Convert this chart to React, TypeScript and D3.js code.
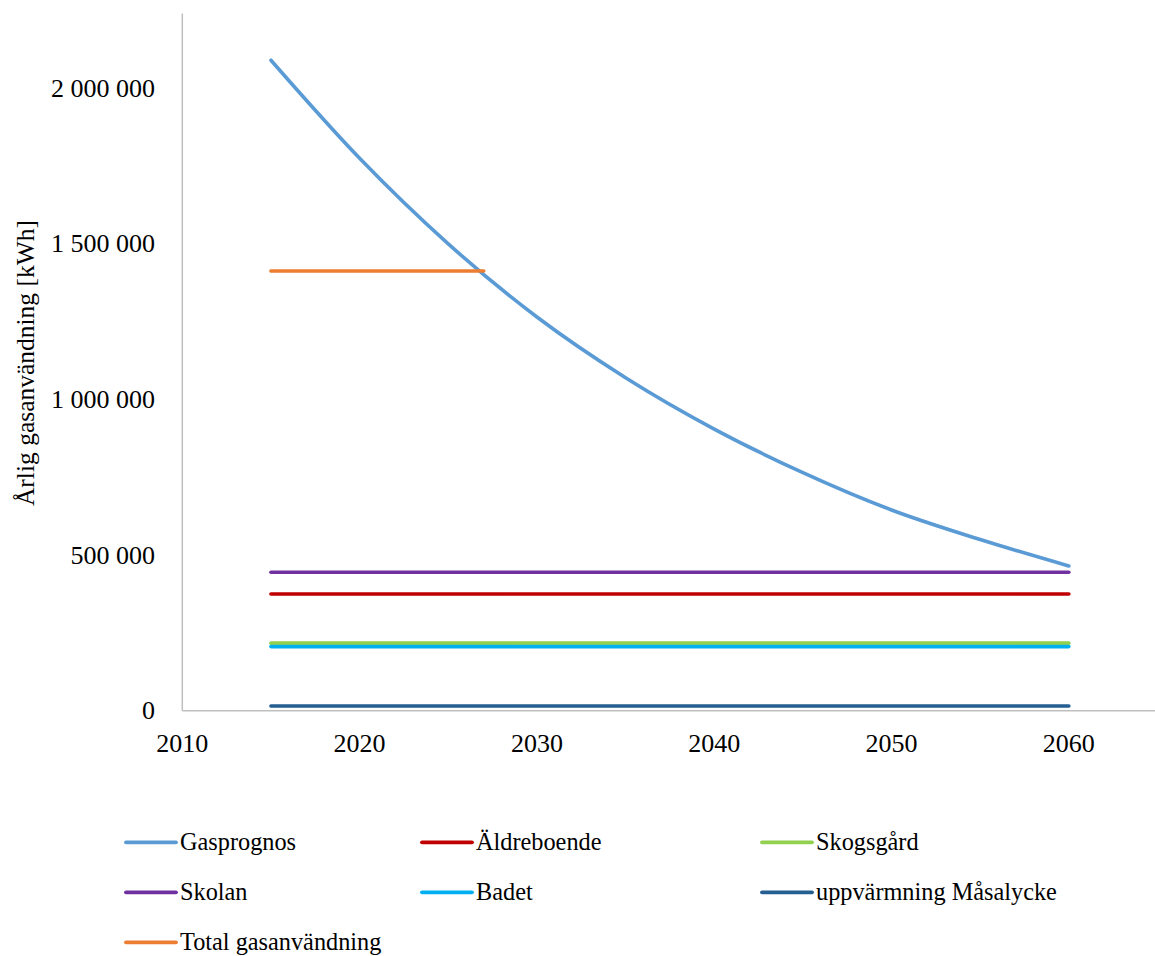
import React from "react";
import * as d3 from "d3";

// Years and yearly gas use [kWh]
const forecastYears = [2015, 2020, 2025, 2030, 2035, 2040, 2045, 2050, 2055, 2060];
const gasprognos = [2090000, 1775000, 1500000, 1265000, 1070000, 905000, 765000, 645000, 550000, 465000];

const flatYears = [2015, 2060];
const aldreboende = [375000, 375000];
const skogsgard = [217000, 217000];
const skolan = [445000, 445000];
const badet = [206000, 206000];
const masalycke = [15000, 15000];

const totalYears = [2015, 2027];
const totalGas = [1413000, 1413000];

const xTicks = [2010, 2020, 2030, 2040, 2050, 2060];
const yTicks = [0, 500000, 1000000, 1500000, 2000000];

const seriesNames = [
  "Gasprognos",
  "Äldreboende",
  "Skogsgård",
  "Skolan",
  "Badet",
  "uppvärmning Måsalycke",
  "Total gasanvändning",
];
const seriesColors = ["#5B9BD5", "#C00000", "#92D050", "#7030A0", "#00B0F0", "#255E91", "#ED7D31"];

const W = 1155;
const H = 956;
const FONT = "Liberation Serif, Times New Roman, serif";

const x = d3.scaleLinear().domain([2010, 2065]).range([182.3, 1157.5]);
const y = d3.scaleLinear().domain([0, 2240000]).range([710.7, 13.6]);

const fmt = (v: number) => d3.format(",")(v).replace(/,/g, " ");

export default function App() {
  const line = d3
    .line<[number, number]>()
    .x((d) => x(d[0]))
    .y((d) => y(d[1]));
  const smooth = d3
    .line<[number, number]>()
    .x((d) => x(d[0]))
    .y((d) => y(d[1]))
    .curve(d3.curveMonotoneX);

  const zip = (xs: number[], vs: number[]) => xs.map((v, i) => [v, vs[i]] as [number, number]);

  const series = [
    { pts: zip(forecastYears, gasprognos), gen: smooth },
    { pts: zip(flatYears, aldreboende), gen: line },
    { pts: zip(flatYears, skogsgard), gen: line },
    { pts: zip(flatYears, skolan), gen: line },
    { pts: zip(flatYears, badet), gen: line },
    { pts: zip(flatYears, masalycke), gen: line },
    { pts: zip(totalYears, totalGas), gen: line },
  ];

  // Legend grid: three columns, rows 50px apart
  const legendCols = [126, 422, 762];
  const legendRows = [842.3, 892.3, 942.3];
  const lineLen = 50;

  const [x0, x1] = x.range();
  const [y0, y1] = y.range();
  const textStyle = { fontFamily: FONT };

  return (
    <svg
      width={W}
      height={H}
      style={{ position: "absolute", left: 0, top: 0, background: "#fff" }}
    >
      {/* axes */}
      <line x1={x0} x2={x0} y1={y1} y2={y0} stroke="#BFBFBF" strokeWidth={1.5} />
      <line x1={x0} x2={x1} y1={y0} y2={y0} stroke="#BFBFBF" strokeWidth={1.5} />

      {yTicks.map((t) => (
        <text key={t} x={155} y={y(t) + 8.6} textAnchor="end" fontSize={26} fill="#000" style={textStyle}>
          {fmt(t)}
        </text>
      ))}
      {xTicks.map((t) => (
        <text key={t} x={x(t)} y={752} textAnchor="middle" fontSize={26} fill="#000" style={textStyle}>
          {t}
        </text>
      ))}

      <text
        transform={`translate(34, 363) rotate(-90)`}
        textAnchor="middle"
        fontSize={25.5}
        fill="#000"
        style={textStyle}
      >
        Årlig gasanvändning [kWh]
      </text>

      {/* series */}
      {series.map((s, i) => (
        <path
          key={i}
          d={s.gen(s.pts) || ""}
          fill="none"
          stroke={seriesColors[i]}
          strokeWidth={3.6}
          strokeLinecap="round"
          strokeLinejoin="round"
        />
      ))}

      {/* legend */}
      {seriesNames.map((name, i) => {
        const cx = legendCols[i % 3];
        const cy = legendRows[Math.floor(i / 3)];
        return (
          <g key={name}>
            <line
              x1={cx}
              x2={cx + lineLen}
              y1={cy}
              y2={cy}
              stroke={seriesColors[i]}
              strokeWidth={3.8}
              strokeLinecap="round"
            />
            <text x={cx + lineLen + 4} y={cy + 8} fontSize={24.3} fill="#000" style={textStyle}>
              {name}
            </text>
          </g>
        );
      })}
    </svg>
  );
}
